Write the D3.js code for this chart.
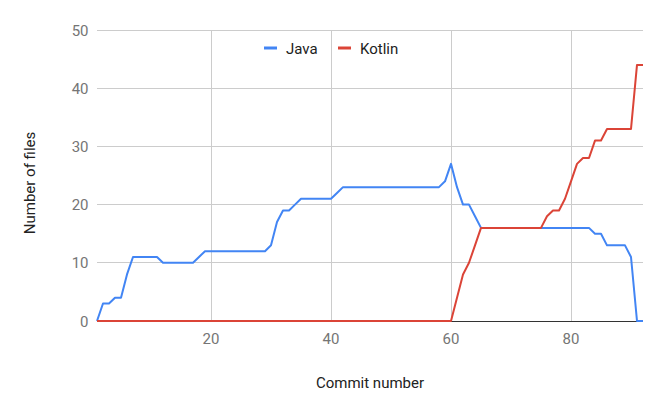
<!DOCTYPE html>
<html><head><meta charset="utf-8">
<script src="https://cdn.jsdelivr.net/npm/d3@7"></script>
<style>body{margin:0;background:#fff}svg{display:block;font-family:Roboto,Arial,sans-serif}</style>
</head><body><svg id="c" width="664" height="411"></svg>
<script>
const seriesNames = ["Java", "Kotlin"];
const seriesColors = ["#4285F4", "#DB4437"];
const javaFiles = [0,3,3,4,4,8,11,11,11,11,11,10,10,10,10,10,10,11,12,
  12,12,12,12,12,12,12,12,12,12,
  13,17,19,19,20,21,
  21,21,21,21,21,
  22,23,
  23,23,23,23,23,23,23,23,23,23,23,23,23,23,23,23,
  24,27,23,20,20,18,16,
  16,16,16,16,16,16,16,16,16,16,16,16,16,16,16,16,16,16,
  15,15,13,13,13,13,11,0,0];
const kotlinFiles = [0,0,0,0,0,0,0,0,0,0,0,0,0,0,0,0,0,0,0,0,
  0,0,0,0,0,0,0,0,0,0,0,0,0,0,0,0,0,0,0,0,
  0,0,0,0,0,0,0,0,0,0,0,0,0,0,0,0,0,0,0,0,
  4,8,10,13,16,
  16,16,16,16,16,16,16,16,16,16,
  18,19,19,21,24,27,28,28,31,31,
  33,33,33,33,33,44,44];
const xTicks = [20,40,60,80];
const yTicks = [0,10,20,30,40,50];

const svg = d3.select("#c");
const x = d3.scaleLinear().domain([1, 92]).range([97, 643]);
const y = d3.scaleLinear().domain([0, 50]).range([321, 30]);

// grid
svg.append("g").selectAll("line").data(yTicks.filter(d=>d>0)).join("line")
  .attr("x1",97).attr("x2",643).attr("y1",d=>y(d)).attr("y2",d=>y(d))
  .attr("stroke","#cccccc").attr("stroke-width",1).attr("shape-rendering","crispEdges");
svg.append("g").selectAll("line").data(xTicks).join("line")
  .attr("x1",d=>x(d)).attr("x2",d=>x(d)).attr("y1",y(50)).attr("y2",y(0))
  .attr("stroke","#cccccc").attr("stroke-width",1).attr("shape-rendering","crispEdges");
// baseline
svg.append("line").attr("x1",97).attr("x2",643).attr("y1",y(0)).attr("y2",y(0))
  .attr("stroke","#333333").attr("stroke-width",1).attr("shape-rendering","crispEdges");

// axes labels
svg.append("g").selectAll("text").data(yTicks).join("text")
  .attr("x",88.5).attr("y",d=>y(d)+5.5).attr("text-anchor","end")
  .attr("font-size",15).attr("fill","#757575").text(d=>d);
svg.append("g").selectAll("text").data(xTicks).join("text")
  .attr("x",d=>x(d)).attr("y",344).attr("text-anchor","middle")
  .attr("font-size",15).attr("fill","#757575").text(d=>d);

svg.append("text").attr("x",370).attr("y",388).attr("text-anchor","middle")
  .attr("font-size",15).attr("fill","#222").text("Commit number");
svg.append("text").attr("transform","translate(35,183) rotate(-90)").attr("text-anchor","middle")
  .attr("font-size",15).attr("fill","#222").text("Number of files");

// lines
const line = d3.line().x((d,i)=>x(i+1)).y(d=>y(d));
[javaFiles, kotlinFiles].forEach((s,k)=>{
  svg.append("path").datum(s).attr("d",line).attr("fill","none")
    .attr("stroke",seriesColors[k]).attr("stroke-width",2).attr("stroke-linejoin","round");
});

// legend
const legX = [264, 338];
seriesNames.forEach((n,k)=>{
  svg.append("line").attr("x1",legX[k]).attr("x2",legX[k]+13).attr("y1",48).attr("y2",48)
    .attr("stroke",seriesColors[k]).attr("stroke-width",3);
  svg.append("text").attr("x",legX[k]+22).attr("y",53.5).attr("font-size",15)
    .attr("fill","#222").text(n);
});
</script></body></html>
